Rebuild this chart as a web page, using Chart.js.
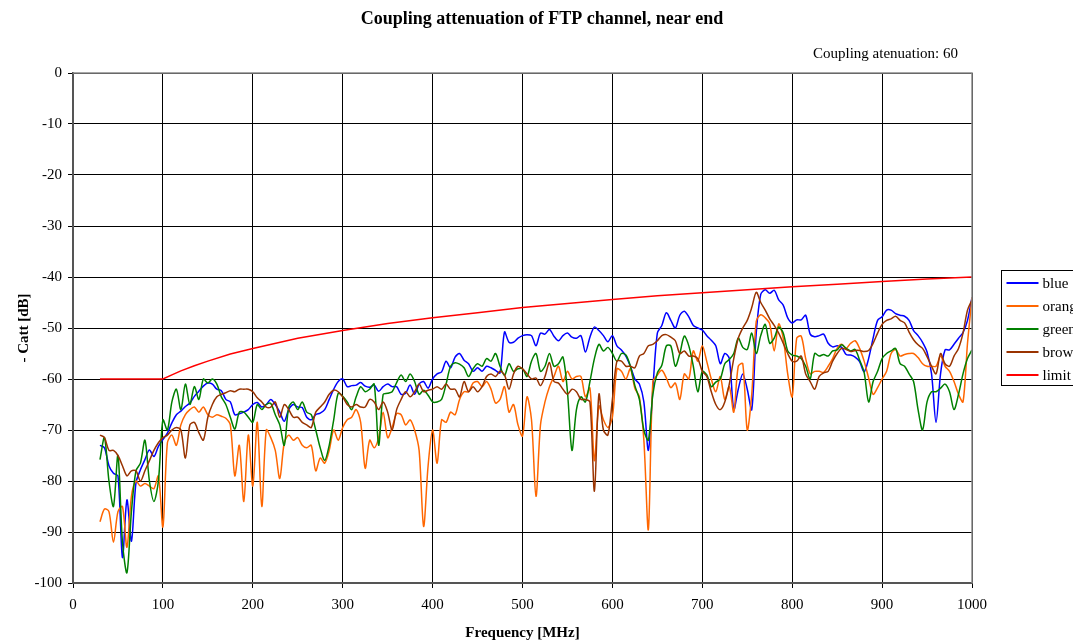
<!DOCTYPE html>
<html>
<head>
<meta charset="utf-8">
<script src="https://cdn.jsdelivr.net/npm/chart.js@4.4.0/dist/chart.umd.min.js"></script>
<style>
  html, body { margin:0; padding:0; background:#fff; overflow:hidden; }
  canvas { display:block; }
</style>
</head>
<body>
<canvas id="catt" width="1073" height="641"></canvas>
<script>
//-----------------Data
const chartTitle = 'Coupling attenuation of FTP channel, near end'
const noteText = 'Coupling atenuation: 60'
const xTitle = 'Frequency [MHz]'
const yTitle = '- Catt [dB]'
const seriesNames  = ['blue','orange','green','brown','limit']
const seriesColors = ['#0000ff','#ff6600','#008000','#993300','#ff0000']

const freq = [
  30,35,40,45,50,55,60,65,70,75,
  80,85,90,95,100,105,110,115,120,125,
  130,135,140,145,150,155,160,165,170,175,
  180,185,190,195,200,205,210,215,220,225,
  230,235,240,245,250,255,260,265,270,275,
  280,285,290,295,300,305,310,315,320,325,
  330,335,340,345,350,355,360,365,370,375,
  380,385,390,395,400,405,410,415,420,425,
  430,435,440,445,450,455,460,465,470,475,
  480,485,490,495,500,505,510,515,520,525,
  530,535,540,545,550,555,560,565,570,575,
  580,585,590,595,600,605,610,615,620,625,
  630,635,640,645,650,655,660,665,670,675,
  680,685,690,695,700,705,710,715,720,725,
  730,735,740,745,750,755,760,765,770,775,
  780,785,790,795,800,805,810,815,820,825,
  830,835,840,845,850,855,860,865,870,875,
  880,885,890,895,900,905,910,915,920,925,
  930,935,940,945,950,955,960,965,970,975,
  980,985,990,995,1000
]

const blue = [
  -73,-73.5,-77,-78.5,-79,-95,-83.7,-91.8,-80.4,-77.8,
  -75.8,-73.9,-75.2,-73.2,-71.9,-70.6,-68.6,-67,-66.3,-65.4,
  -64.7,-63.4,-62.4,-61.4,-60.8,-61,-62,-62.3,-64,-64.5,
  -67,-66.8,-66.5,-66,-65,-64.6,-65.5,-65,-64,-65,
  -66.5,-68.3,-66,-65,-65.5,-65.6,-67.5,-68,-67,-66.7,
  -66,-64,-62,-60.5,-60,-61.5,-61.3,-61.2,-60.7,-61.4,
  -61.6,-61.2,-62.4,-61.5,-61,-61.5,-61.5,-63,-62.8,-61.2,
  -63,-61,-60.5,-61.8,-60,-59,-58.6,-56.5,-57.8,-55.7,
  -55,-56.3,-57,-58.5,-57.8,-58.5,-57.5,-57.8,-58.3,-58.8,
  -50.8,-52.8,-52.8,-52,-51.5,-51.3,-51.5,-53.5,-51,-51.2,
  -50.3,-51.6,-52.5,-51.5,-51,-51.8,-52,-51.5,-54.7,-51.8,
  -49.8,-50.5,-51.5,-52.7,-51.5,-53.5,-54.3,-55.5,-57.5,-60,
  -61,-64.5,-74,-62,-51,-49.5,-47,-48.5,-50,-47.5,
  -46.7,-47.8,-49.5,-50,-50.4,-51.5,-52.4,-53.5,-57,-55,
  -56,-66,-62,-59,-62,-66,-51,-43.4,-42.5,-43.2,
  -42.6,-44.5,-45.5,-48,-49,-48.4,-48.4,-47.5,-51.2,-51.7,
  -51.5,-51.2,-53,-53.7,-53.5,-53.8,-55.2,-55.3,-55.7,-56.6,
  -58.6,-56,-52,-48.5,-47.8,-46.5,-46.5,-47.2,-47.5,-47.7,
  -48.5,-50.5,-51.5,-52.8,-54.7,-59,-68.5,-59,-54.3,-54.3,
  -53.2,-52,-50.9,-48.5,-44
]

const orange = [
  -88,-85.5,-86,-92,-86,-85,-93,-83,-80,-81,
  -80.5,-81,-81.5,-79,-89,-72.5,-71,-73,-69,-67,
  -66,-65.5,-66.5,-65.5,-67,-67.5,-67,-67.3,-67.7,-69,
  -79,-73,-84,-71,-81,-68.5,-85,-70,-71.5,-74,
  -79.5,-72.5,-71,-72,-71.5,-73,-73.5,-73,-78,-75.5,
  -76.5,-74,-70,-72,-69.5,-68,-67.5,-66,-68.5,-77.5,
  -72,-73.5,-71.5,-66.5,-71.5,-69.5,-66.8,-67,-69,-68,
  -70,-74,-88.9,-77,-70,-76.5,-68,-68.5,-66.5,-67,
  -64,-62.5,-62.5,-60.8,-60.5,-61.5,-60.5,-62,-64.7,-64,
  -61.5,-66.5,-65,-69,-71.2,-63.5,-68,-83,-69,-64.5,
  -61.5,-59.5,-57.5,-60.5,-58.5,-60,-59.5,-59.5,-63.5,-61.8,
  -76,-65.3,-68,-69.5,-67.5,-58,-58.5,-60,-58,-61.8,
  -63.5,-72,-89.5,-60.5,-59.2,-58.3,-59.8,-61.7,-60.8,-64,
  -59,-60,-54.5,-56.5,-53.5,-56.6,-60,-62.5,-59.5,-64,
  -61.5,-66.5,-57.5,-57,-70,-63,-48.7,-47.4,-48,-49.2,
  -54.5,-49.2,-52,-59,-63.5,-52,-51.6,-56,-59,-58.5,
  -58.5,-58.7,-57.5,-56,-54,-53.2,-54,-53,-52.5,-54,
  -56.5,-59.8,-63,-61.7,-60,-58.5,-55,-54.2,-55.5,-55.2,
  -55,-55,-55.8,-57,-57.5,-57.5,-57.5,-55.5,-57.5,-58.5,
  -60.5,-63,-64.5,-53,-44
]

const green = [
  -75.8,-71.5,-80,-85,-75,-92,-98,-86,-78,-76.5,
  -72,-80,-84,-80,-68,-70,-64.5,-62,-66,-61,
  -65,-61.5,-64,-60,-60.8,-60,-61,-63.5,-65,-67.5,
  -69.8,-66.5,-66.5,-67.5,-68.5,-65,-66,-65,-64.8,-67,
  -69,-73,-65.5,-64.5,-66,-64.5,-66.5,-67,-70,-73.5,
  -76,-73,-68,-62.8,-63.4,-64.5,-66,-63.5,-61.5,-62.5,
  -62,-61,-73,-63,-62.8,-62.5,-60.7,-59.2,-60.5,-59,
  -60.5,-63,-62.2,-63.2,-64.5,-64.5,-64,-61,-57.5,-56.8,
  -57.1,-57.8,-59.5,-58,-57,-57.5,-56,-56.5,-55,-57.5,
  -59.3,-57,-58.5,-58,-58,-59.5,-56.5,-55,-58.5,-57.5,
  -55,-57.5,-57,-55.7,-62.5,-74,-66,-63.5,-64.5,-60.5,
  -56,-53.2,-54.5,-53.8,-55,-56.5,-55,-55.3,-57.5,-61.3,
  -64,-70,-72,-63,-58.8,-57.3,-53.5,-53.5,-57.5,-55,
  -51.6,-53.5,-57.5,-62.5,-58.5,-59.2,-61.5,-60.6,-60,-57,
  -56.2,-55,-52,-53.8,-54.2,-51,-55,-51.5,-49.3,-53,
  -52,-49.8,-51,-54.5,-55.3,-55.5,-56,-57.5,-60,-55,
  -55.5,-55.2,-55.5,-54.5,-54.3,-53.3,-54,-54.5,-54.2,-56.3,
  -58.7,-64.5,-60.5,-58.5,-56,-55,-54.5,-54,-57,-57.5,
  -59,-60.5,-66,-70,-64.5,-62.5,-62.5,-61.8,-61,-62.5,
  -66,-63,-59,-56,-54.3
]

const brown = [
  -71,-71.5,-74,-74,-75,-77,-79,-78,-78,-80,
  -78,-76,-74,-72.5,-71.5,-71,-70,-69.5,-70,-75.5,
  -69,-68.5,-70.5,-72,-67.5,-65,-63.5,-63,-62.7,-62.3,
  -62.5,-62,-62,-62,-62.5,-63.7,-64.5,-65.5,-65.5,-64.5,
  -67.5,-65,-66,-67.5,-67.5,-68.5,-69,-69.5,-66.5,-65.5,
  -64.5,-63,-62.2,-62.5,-63.5,-65,-65.5,-65,-65.5,-65.5,
  -64,-64.5,-66,-64.5,-66.5,-70,-66,-64,-62.5,-63.5,
  -62.5,-61,-62.5,-62.2,-62,-61.5,-62,-61,-62,-62,
  -63.5,-60.5,-62.5,-61.5,-62.5,-61.5,-59.5,-59,-59.5,-58.5,
  -59.2,-62,-59,-57.5,-58,-59,-60,-59.8,-61.3,-59.5,
  -56.8,-60.5,-60.8,-62,-63,-62,-62.5,-64,-64,-64.5,
  -82,-63,-70,-71,-64,-56.5,-56.5,-57.5,-57.5,-57.8,
  -55.5,-55,-53.5,-53.2,-52.5,-51.5,-51.3,-51.8,-52.5,-55,
  -54.5,-55.5,-55.5,-56,-58.5,-59.5,-62.5,-65,-66,-64.5,
  -61,-56,-52,-50,-48.5,-46,-43,-45,-46.5,-48.2,
  -49.5,-51,-53,-55,-56.5,-56.5,-55.5,-59,-60.5,-62,
  -59.5,-58.8,-58.5,-56.5,-55,-54,-54.2,-54.6,-54.4,-54.4,
  -54.6,-54.4,-53,-51,-49.3,-48.5,-48.2,-47.7,-48.5,-49,
  -50.8,-52.3,-53.3,-54,-55.6,-57.5,-59,-55,-57,-57.5,
  -55.5,-54,-51,-46.5,-44.5
]

const limitFreq = [30,100,110,120,135,150,175,200,250,300,350,400,450,500,550,600,650,700,750,800,850,900,950,1000]
const limitVals = [-60,-60,-59.2,-58.4,-57.4,-56.5,-55.1,-54,-52,-50.5,-49.1,-48,-47,-46,-45.2,-44.4,-43.7,-43.1,-42.5,-41.9,-41.4,-40.9,-40.4,-40]

//-----------------Build datasets
const serif = "'Liberation Serif', 'Times New Roman', serif"
function pairs(xs, ys){
  return xs.map((x, i) => ({x: x, y: ys[i]}))
}
const measured = [blue, orange, green, brown]
const datasets = measured.map((vals, i) => ({
  label: seriesNames[i],
  data: pairs(freq, vals),
  borderColor: seriesColors[i],
  borderWidth: 1.5,
  pointRadius: 0,
  tension: 0.3,
  fill: false,
  order: 4 - i          // later series drawn on top, like the original
}))
datasets.push({
  label: seriesNames[4],
  data: pairs(limitFreq, limitVals),
  borderColor: seriesColors[4],
  borderWidth: 1.5,
  pointRadius: 0,
  tension: 0,           // dense points, straight pieces -> keeps the kink at 100 MHz
  fill: false,
  order: 0
})

//-----------------Title, note, frame and boxed legend
const decorations = {
  id: 'decorations',
  afterDraw(chart){
    const ctx = chart.ctx
    const a = chart.chartArea
    ctx.save()
    // frame round the plot
    ctx.strokeStyle = '#8a8a8a'
    ctx.lineWidth = 1.5
    ctx.beginPath()
    ctx.moveTo(a.left, a.top); ctx.lineTo(a.right, a.top); ctx.lineTo(a.right, a.bottom)
    ctx.stroke()
    // title + note
    ctx.fillStyle = '#000'
    ctx.font = 'bold 18px ' + serif
    ctx.textAlign = 'center'
    ctx.textBaseline = 'middle'
    ctx.fillText(chartTitle, 542, 19)
    ctx.font = '15px ' + serif
    ctx.textAlign = 'right'
    ctx.fillText(noteText, 958, 54)
    // legend (runs off the right edge like the original)
    const lx = a.right + 29.5, ly = 270.5, rowH = 23
    ctx.strokeStyle = '#000'
    ctx.lineWidth = 1
    ctx.strokeRect(lx, ly, 110, rowH * seriesNames.length)
    ctx.textAlign = 'left'
    chart.data.datasets.forEach((ds, i) => {
      const y = ly + 12.5 + i * rowH
      ctx.strokeStyle = ds.borderColor
      ctx.lineWidth = 2
      ctx.beginPath(); ctx.moveTo(lx + 5, y); ctx.lineTo(lx + 37, y); ctx.stroke()
      ctx.fillStyle = '#000'
      ctx.fillText(ds.label, lx + 41, y + 1)
    })
    ctx.restore()
  }
}

const ctx = document.getElementById('catt').getContext('2d')
GraphCatt = new Chart(ctx, {
  type: 'line',
  data: { datasets: datasets },
  plugins: [decorations],
  options: {
    responsive: false,
    animation: false,
    layout: { padding: { top: 73, right: 101, left: 0, bottom: 0 } },
    plugins: {
      legend: { display: false },
      title: { display: false },
      tooltip: { enabled: false }
    },
    scales: {
      x: {
        type: 'linear',
        min: 0, max: 1000,
        ticks: { stepSize: 100, color: '#000', font: { family: serif, size: 15 }, padding: 8, maxRotation: 0,
                 callback: v => String(v) },
        grid: { color: '#000', lineWidth: 1, tickLength: 5 },
        border: { color: '#555', width: 2 },
        title: { display: true, text: xTitle, color: '#000', font: { family: serif, size: 15, weight: 'bold' }, padding: { top: 0, bottom: -1 } },
        afterFit(scale){ scale.height = 58 }
      },
      y: {
        min: -100, max: 0,
        ticks: { stepSize: 10, color: '#000', font: { family: serif, size: 15 }, padding: 6 },
        grid: { color: '#000', lineWidth: 1, tickLength: 5 },
        border: { color: '#555', width: 2 },
        title: { display: true, text: yTitle, color: '#000', font: { family: serif, size: 15, weight: 'bold' }, padding: { top: 15, bottom: 0 } },
        afterFit(scale){ scale.width = 73 }
      }
    }
  }
})
</script>
</body>
</html>
